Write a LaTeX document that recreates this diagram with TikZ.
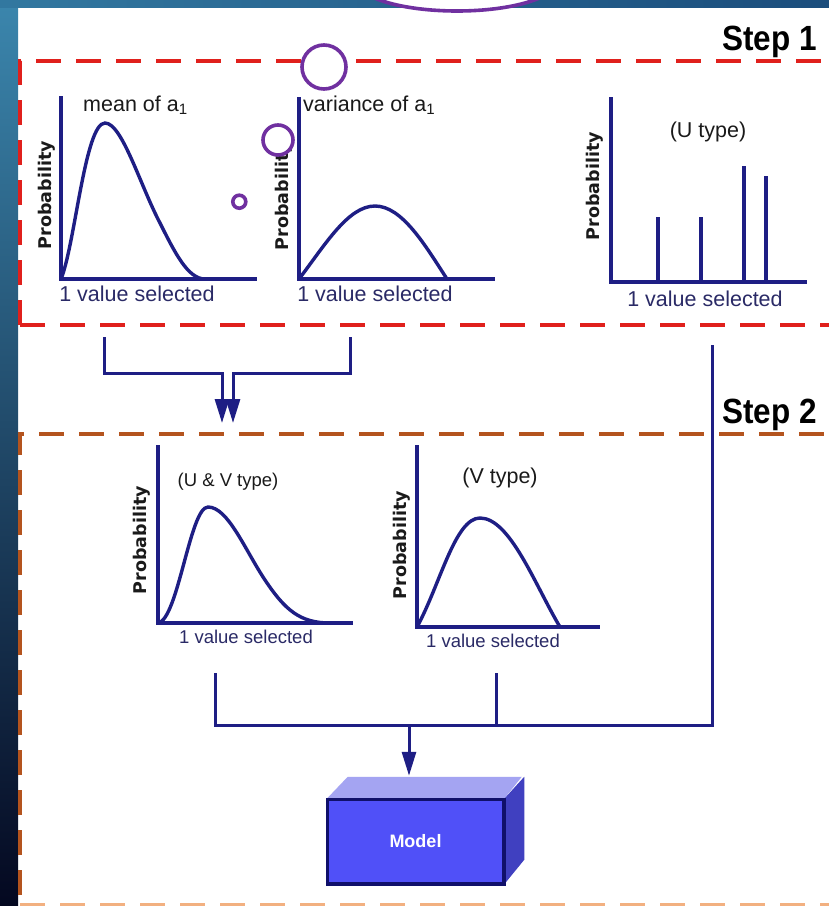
\documentclass[tikz,border=0pt]{standalone}
\usepackage{fontspec}
\setmainfont{Liberation Sans}
\newfontfamily\probfont{DejaVu Sans}
\newfontfamily\stepfont{Liberation Sans}[FakeStretch=0.9]
\usepackage{tikz}
\usetikzlibrary{calc,arrows.meta}
\definecolor{navy}{HTML}{1E1E84}
\definecolor{ink}{HTML}{1A1A1A}
\definecolor{selink}{HTML}{2A2A66}
\definecolor{stepred}{HTML}{E0201C}
\definecolor{stepbrown}{HTML}{B4541E}
\definecolor{steppeach}{HTML}{F2B080}
\definecolor{ringpurple}{HTML}{7030A0}
\definecolor{boxfront}{HTML}{5050F8}
\definecolor{boxtop}{HTML}{A4A4F2}
\definecolor{boxside}{HTML}{4040C0}
\definecolor{boxedge}{HTML}{10106A}
\definecolor{slidetop}{HTML}{3B86AD}
\definecolor{slidemid}{HTML}{16508A}
\definecolor{slidebot}{HTML}{040820}
\definecolor{bandleft}{HTML}{3278A0}
\definecolor{bandright}{HTML}{1B4D7C}
\tikzset{
  axisline/.style={draw=navy, line width=3.2pt},
  curveline/.style={draw=navy, line width=3.4pt},
  linkline/.style={draw=navy, line width=3pt},
  arrowline/.style={linkline, -{Triangle[length=24pt,width=14pt]}},
  redframe/.style={draw=stepred, line width=4pt, dash pattern=on 25pt off 15pt},
  brownframe/.style={draw=stepbrown, line width=4pt, dash pattern=on 25pt off 15pt},
  peachframe/.style={draw=steppeach, line width=4pt, dash pattern=on 25pt off 15pt},
  lab/.style={text=ink, font=\fontsize{21.5}{24}\selectfont, inner sep=0pt},
  smalllab/.style={text=ink, font=\fontsize{18.5}{21}\selectfont, inner sep=0pt},
  sellab/.style={text=selink, font=\fontsize{21.5}{24}\selectfont, inner sep=0pt},
  smallsel/.style={text=selink, font=\fontsize{18.5}{21}\selectfont, inner sep=0pt},
  problab/.style={text=ink, font=\probfont\bfseries\fontsize{17.5}{20}\selectfont, rotate=90, inner sep=0pt},
  steplab/.style={text=black, font=\stepfont\bfseries\fontsize{35}{38}\selectfont, inner sep=0pt},
  modelbox/.style={fill=boxfront, draw=boxedge, line width=2.5pt, minimum width=175pt, minimum height=83pt,
    inner sep=0pt, text=white, font=\bfseries\fontsize{18}{20}\selectfont},
  ring/.style={draw=ringpurple, line width=3.6pt, fill=white},
}
\begin{document}
\begin{tikzpicture}[x=1pt,y=-1pt]
  \useasboundingbox (0,0) rectangle (829,906);
  \fill[white] (0,0) rectangle (829,906);
  \shade[top color=slidetop, middle color=slidemid, bottom color=slidebot] (0,0) rectangle (18,906);
  \shade[left color=bandleft, right color=bandright] (0,0) rectangle (829,7);

  \draw[redframe] (20,325) -- (20,61) -- (840,61);
  \draw[redframe] (20,325) -- (840,325);
  \draw[brownframe] (20,895) -- (20,434) -- (840,434);
  \draw[peachframe] (20,905) -- (840,905);
  \node[steplab, anchor=base east] (step1) at (817,50) {Step 1};
  \node[steplab, anchor=base east] (step2) at (817,423) {Step 2};

  \coordinate (o1) at (61,279);
  \draw[axisline] (61,96) -- (o1) -- (257,279);
  \draw[curveline] (o1) .. controls (75,245) and (85,123) .. (105,123)
    .. controls (122,123) and (140,185) .. (160,223) .. controls (175,253) and (188,279) .. (205,279);
  \node[lab, anchor=base west] (mean) at (83,111) {mean of a\textsubscript{1}};
  \node[problab] (prob1) at (46.5,195) {Probability};
  \node[sellab, anchor=base] (sel1) at (137,301) {1 value selected};

  \coordinate (o2) at (299,279);
  \draw[axisline] (299,97) -- (o2) -- (495,279);
  \draw[curveline] (o2) .. controls (325,245) and (348,206) .. (375,206)
    .. controls (402,206) and (425,245) .. (447,279);
  \node[lab, anchor=base west] (var) at (303,111) {variance of a\textsubscript{1}};
  \node[problab] (prob2) at (284,196) {Probability};
  \node[sellab, anchor=base] (sel2) at (375,301) {1 value selected};

  \coordinate (o3) at (611,282);
  \draw[axisline] (611,97) -- (o3) -- (807,282);
  \draw[axisline] (658,282) -- (658,217) (701,282) -- (701,217) (744,282) -- (744,166) (766,282) -- (766,176);
  \node[lab, anchor=base] (utype) at (708,137) {(U type)};
  \node[problab] (prob3) at (595,186) {Probability};
  \node[sellab, anchor=base] (sel3) at (705,306) {1 value selected};

  \coordinate (o4) at (158,623);
  \draw[axisline] (158,445) -- (o4) -- (353,623);
  \draw[curveline] (o4) .. controls (178,620) and (190,507) .. (208,507)
    .. controls (228,507) and (245,550) .. (265,580) .. controls (285,610) and (300,623) .. (330,623);
  \node[smalllab, anchor=base] (uvtype) at (228,486) {(U \& V type)};
  \node[problab] (prob4) at (142,540) {Probability};
  \node[smallsel, anchor=base] (sel4) at (246,643) {1 value selected};

  \coordinate (o5) at (417,627);
  \draw[axisline] (417,445) -- (o5) -- (600,627);
  \draw[curveline] (o5) .. controls (440,585) and (455,518) .. (480,518)
    .. controls (510,518) and (535,585) .. (560,627);
  \node[lab, anchor=base] (vtype) at (500,483) {(V type)};
  \node[problab] (prob5) at (402,545) {Probability};
  \node[smallsel, anchor=base] (sel5) at (493,647) {1 value selected};

  \coordinate (meanout) at (104,337);
  \coordinate (varout) at (350,337);
  \coordinate (in1) at (222,423);
  \coordinate (in2) at (233,423);
  \draw[arrowline] (meanout) -- ++(0,36) -| (in1);
  \draw[arrowline] (varout) -- ++(0,36) -| (in2);

  \node[modelbox] (model) at (415.5,841.5) {Model};
  \fill[boxtop] (model.north west) -- ++(21,-22) -- ++(174,0) -- (model.north east) -- cycle;
  \fill[boxside] (model.north east) -- ++(20,-22) -- ++(0,83) -- (model.south east) -- cycle;
  \draw[boxedge, line width=2.5pt] (model.south west) rectangle (model.north east);
  \coordinate (modeltop) at ($(model.north)+(0,-23)$);

  \coordinate (uvout) at (215,673);
  \coordinate (vout) at (496,673);
  \coordinate (uout) at (712,345);
  \coordinate (join) at (409,725);
  \draw[linkline] (uvout) -- ++(0,52) -| (uout);
  \draw[linkline] (vout) -- ++(0,52);
  \draw[arrowline] (join) -- (join |- modeltop);

  \draw[ring] (457,-19) ellipse[x radius=100, y radius=30];
  \draw[ring] (324,67) circle[radius=22];
  \draw[ring] (278,140) circle[radius=15];
  \draw[ring] (239.3,201.7) circle[radius=6.5];
\end{tikzpicture}
\end{document}
